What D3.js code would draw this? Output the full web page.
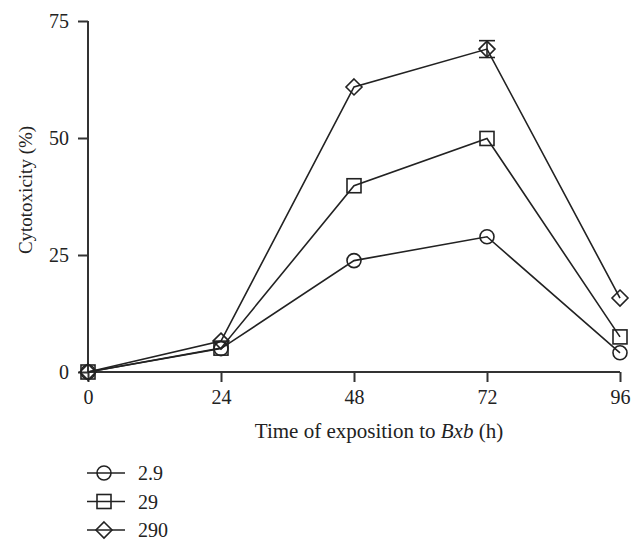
<!DOCTYPE html>
<html>
<head>
<meta charset="utf-8">
<script src="https://cdn.jsdelivr.net/npm/d3@7"></script>
<style>
  body { margin: 0; background: #fff; }
  text { font-family: "Liberation Serif", "DejaVu Serif", serif; fill: #222; }
</style>
</head>
<body>
<script>
// data
var hours = [0, 24, 48, 72, 96];
var seriesNames = ['2.9', '29', '290'];
var vals29a = [0, 5.0, 23.8, 28.9, 4.1];
var vals29 = [0, 5.1, 39.8, 49.9, 7.5];
var vals290 = [0, 6.6, 60.9, 69.0, 15.8];
var err290 = [0, 0, 0, 1.8, 0];
var xTicks = [0, 24, 48, 72, 96];
var yTicks = [0, 25, 50, 75];

var series = [
  {name: seriesNames[0], values: vals29a, shape: 'circle'},
  {name: seriesNames[1], values: vals29, shape: 'square'},
  {name: seriesNames[2], values: vals290, shape: 'diamond', err: err290}
];

// graph dimensions
var width = 643, height = 552,
    margin = {top: 21, left: 88, right: 23, bottom: 180};

var x = d3.scaleLinear().domain([0, 96]).range([margin.left, width - margin.right]);
var y = d3.scaleLinear().domain([0, 75]).range([height - margin.bottom, margin.top]);

var svg = d3.select('body').append('svg')
    .attr('width', width)
    .attr('height', height);

var ink = '#222';

function marker(g, shape) {
  if (shape === 'circle') {
    g.append('circle').attr('r', 7);
  } else if (shape === 'square') {
    g.append('rect').attr('x', -7).attr('y', -7).attr('width', 14).attr('height', 14);
  } else {
    g.append('path').attr('d', 'M0,-8L8,0L0,8L-8,0Z');
  }
  g.selectAll('*').attr('fill', 'none').attr('stroke', ink).attr('stroke-width', 1.6);
}

// x-axis
var xAxis = svg.append('g')
    .attr('transform', 'translate(0,' + y(0) + ')')
    .call(d3.axisBottom(x).tickValues(xTicks).tickSize(10).tickPadding(8));

// y-axis
var yAxis = svg.append('g')
    .attr('transform', 'translate(' + x(0) + ',0)')
    .call(d3.axisLeft(y).tickValues(yTicks).tickSize(10).tickPadding(9));

[xAxis, yAxis].forEach(function(a) {
  a.selectAll('.tick line').attr('stroke', '#333').attr('stroke-width', 2);
  a.selectAll('.tick text').attr('font-size', 20).attr('fill', ink)
    .style('font-family', '"Liberation Serif", serif');
});
// plain axis lines without outer ticks
xAxis.select('.domain').attr('stroke', '#333').attr('stroke-width', 2)
    .attr('d', 'M' + x(0) + ',0H' + x(96));
yAxis.select('.domain').attr('stroke', '#333').attr('stroke-width', 2)
    .attr('d', 'M0,' + y(75) + 'V' + y(0));

// lines
var valueline = d3.line()
    .x(function(d, i) { return x(hours[i]); })
    .y(function(d) { return y(d); });

series.forEach(function(s) {
  svg.append('path')
      .datum(s.values)
      .attr('fill', 'none')
      .attr('stroke', ink)
      .attr('stroke-width', 1.6)
      .attr('d', valueline);

  if (s.err) {
    s.values.forEach(function(v, i) {
      if (!s.err[i]) return;
      var g = svg.append('g').attr('stroke', ink).attr('stroke-width', 1.6);
      var cx = x(hours[i]);
      g.append('line').attr('x1', cx).attr('x2', cx).attr('y1', y(v + s.err[i])).attr('y2', y(v - s.err[i]));
      g.append('line').attr('x1', cx - 8).attr('x2', cx + 8).attr('y1', y(v + s.err[i])).attr('y2', y(v + s.err[i]));
      g.append('line').attr('x1', cx - 8).attr('x2', cx + 8).attr('y1', y(v - s.err[i])).attr('y2', y(v - s.err[i]));
    });
  }

  s.values.forEach(function(v, i) {
    var g = svg.append('g').attr('transform', 'translate(' + x(hours[i]) + ',' + y(v) + ')');
    marker(g, s.shape);
  });
});

// axis titles
svg.append('text')
    .attr('text-anchor', 'middle')
    .attr('font-size', 19)
    .attr('transform', 'translate(32,190)rotate(-90)')
    .text('Cytotoxicity (%)');

var xt = svg.append('text')
    .attr('text-anchor', 'middle')
    .attr('font-size', 21)
    .attr('x', 379)
    .attr('y', 438);
xt.append('tspan').text('Time of exposition to ');
xt.append('tspan').attr('font-style', 'italic').text('Bxb');
xt.append('tspan').text(' (h)');

// legend
series.forEach(function(s, i) {
  var ly = 473 + i * 28.5;
  svg.append('line').attr('x1', 87).attr('x2', 125).attr('y1', ly).attr('y2', ly)
      .attr('stroke', ink).attr('stroke-width', 1.6);
  marker(svg.append('g').attr('transform', 'translate(104,' + ly + ')'), s.shape);
  svg.append('text').attr('x', 138).attr('y', ly).attr('dy', '0.35em')
      .attr('font-size', 20).text(s.name);
});
</script>
</body>
</html>
